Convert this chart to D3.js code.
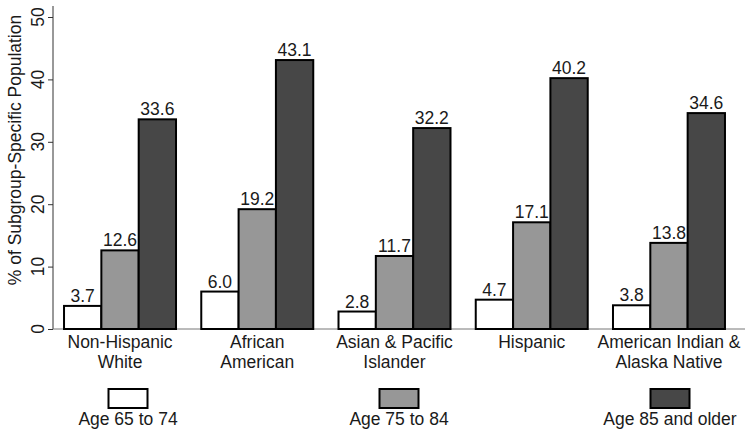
<!DOCTYPE html>
<html>
<head>
<meta charset="utf-8">
<script src="https://cdnjs.cloudflare.com/ajax/libs/d3/7.8.5/d3.min.js"></script>
<style>
  body { margin: 0; background: #fff; }
  text { font-family: "Liberation Sans", Arial, sans-serif; fill: #1a1a1a; }
</style>
</head>
<body>
<div id="chart"></div>
<script>
// data
const groups = ["Non-Hispanic White", "African American", "Asian & Pacific Islander", "Hispanic", "American Indian & Alaska Native"];
const groupLines = [["Non-Hispanic", "White"], ["African", "American"], ["Asian & Pacific", "Islander"], ["Hispanic"], ["American Indian &", "Alaska Native"]];
const seriesNames = ["Age 65 to 74", "Age 75 to 84", "Age 85 and older"];
const age65to74 = [3.7, 6.0, 2.8, 4.7, 3.8];
const age75to84 = [12.6, 19.2, 11.7, 17.1, 13.8];
const age85plus = [33.6, 43.1, 32.2, 40.2, 34.6];
const yTicks = [0, 10, 20, 30, 40, 50];
const yTitle = "% of Subgroup-Specific Population";

const seriesValues = [age65to74, age75to84, age85plus];
const colors = ["#ffffff", "#979797", "#474747"];

const width = 750, height = 434;
const svg = d3.select("#chart").append("svg")
    .attr("width", width)
    .attr("height", height);

let xScale = d3.scaleBand()
    .domain(groups)
    .range([51.4, 737.6])
    .paddingInner(0.184)
    .paddingOuter(0.092);

let xSub = d3.scaleBand()
    .domain(seriesNames)
    .range([0, xScale.bandwidth()]);

let yScale = d3.scaleLinear()
    .domain([0, 50])
    .range([329, 17]);

// y axis: ticks from d3, labels rotated like the original
let yAxis = d3.axisLeft(yScale).tickValues(yTicks).tickSize(5).tickFormat("");
let yG = svg.append("g")
    .attr("transform", "translate(53,0)")
    .call(yAxis);
yG.select(".domain").remove();
yG.selectAll(".tick line").attr("stroke", "#333");

svg.append("g").selectAll("text").data(yTicks).enter().append("text")
    .attr("transform", d => "translate(44," + yScale(d) + ") rotate(-90)")
    .attr("text-anchor", "middle")
    .style("font-size", "17.5px")
    .text(d => d);

svg.append("line")
    .attr("x1", 53).attr("x2", 53)
    .attr("y1", 6).attr("y2", yScale(0))
    .attr("stroke", "#333").attr("stroke-width", 1);

// baseline
svg.append("line")
    .attr("x1", 53).attr("x2", 745)
    .attr("y1", yScale(0)).attr("y2", yScale(0))
    .attr("stroke", "#777").attr("stroke-width", 1);

svg.append("text")
    .attr("transform", "translate(21,150) rotate(-90)")
    .attr("text-anchor", "middle")
    .style("font-size", "17.5px")
    .text(yTitle);

// bars
let barsG = svg.append("g").selectAll("g").data(groups).enter().append("g")
    .attr("transform", d => "translate(" + xScale(d) + ",0)");

barsG.each(function(g, gi) {
  let vals = seriesValues.map((s, si) => ({ name: seriesNames[si], value: s[gi], color: colors[si] }));
  let sel = d3.select(this);
  sel.selectAll("rect").data(vals).enter().append("rect")
      .attr("x", d => xSub(d.name))
      .attr("y", d => yScale(d.value))
      .attr("width", xSub.bandwidth())
      .attr("height", d => yScale(0) - yScale(d.value))
      .attr("fill", d => d.color)
      .attr("stroke", "#000")
      .attr("stroke-width", 2);
  sel.selectAll("text.val").data(vals).enter().append("text")
      .attr("class", "val")
      .attr("x", d => xSub(d.name) + xSub.bandwidth() / 2)
      .attr("y", d => yScale(d.value) - 4)
      .attr("text-anchor", "middle")
      .style("font-size", "17.5px")
      .text(d => d.value.toFixed(1));
  let lab = sel.append("text")
      .attr("text-anchor", "middle")
      .style("font-size", "17.5px");
  groupLines[gi].forEach((ln, li) => {
    lab.append("tspan")
        .attr("x", xScale.bandwidth() / 2)
        .attr("y", 348 + li * 20)
        .text(ln);
  });
});

// legend
let legX = d3.scalePoint().domain(seriesNames).range([128, 670]);
let leg = svg.append("g").selectAll("g").data(seriesNames).enter().append("g")
    .attr("transform", d => "translate(" + legX(d) + ",0)");
leg.append("rect")
    .attr("x", -19.5).attr("y", 389)
    .attr("width", 39).attr("height", 19)
    .attr("fill", (d, i) => colors[i])
    .attr("stroke", "#000").attr("stroke-width", 2);
leg.append("text")
    .attr("y", 425)
    .attr("text-anchor", "middle")
    .style("font-size", "17.5px")
    .text(d => d);
</script>
</body>
</html>
